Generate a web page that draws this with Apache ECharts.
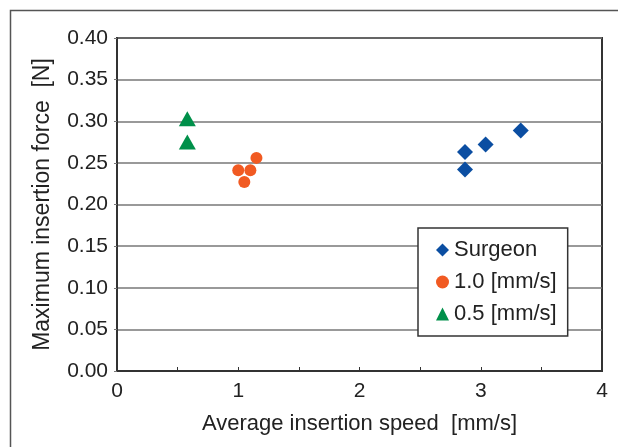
<!DOCTYPE html>
<html><head><meta charset="utf-8">
<script src="https://cdn.jsdelivr.net/npm/echarts@6/dist/echarts.min.js"></script>
<style>html,body{margin:0;padding:0;background:#fff}#c{width:618px;height:447px}</style>
</head><body><div id="c"></div>
<script>
var seriesNames = ['Surgeon', '1.0 [mm/s]', '0.5 [mm/s]'];
var surgeonX = [2.87, 2.87, 3.04, 3.33];
var surgeonY = [0.263, 0.242, 0.272, 0.289];
var speed10X = [1.00, 1.10, 1.15, 1.05];
var speed10Y = [0.241, 0.241, 0.256, 0.227];
var speed05X = [0.58, 0.58];
var speed05Y = [0.303, 0.275];
var xTicks = [0, 1, 2, 3, 4];
var yTicks = [0.00, 0.05, 0.10, 0.15, 0.20, 0.25, 0.30, 0.35, 0.40];

function pairs(xs, ys) { return xs.map(function (x, i) { return [x, ys[i]]; }); }
var FONT = '"Liberation Sans", Arial, sans-serif';
var chart = echarts.init(document.getElementById('c'), null, {renderer: 'canvas'});
chart.setOption({
  animation: false,
  backgroundColor: '#fff',
  textStyle: {fontFamily: FONT},
  graphic: [{
    type: 'rect', shape: {x: 10.5, y: 10.5, width: 640, height: 460},
    style: {fill: 'none', stroke: '#555', lineWidth: 1.5}, silent: true, z: 0
  }],
  grid: {left: 117, right: 16, top: 38, bottom: 76, show: true,
    borderColor: '#333', borderWidth: 2, backgroundColor: 'transparent'},
  xAxis: {
    type: 'value', min: xTicks[0], max: xTicks[xTicks.length - 1], interval: 1,
    name: 'Average insertion speed  [mm/s]', nameLocation: 'middle', nameGap: 42,
    nameTextStyle: {fontSize: 22, color: '#222', fontFamily: FONT},
    axisLine: {lineStyle: {color: '#333', width: 2}},
    axisTick: {show: true, inside: true, length: 4, lineStyle: {color: '#333'}},
    minorTick: {show: true, splitNumber: 2, length: 4, lineStyle: {color: '#333'}},
    splitLine: {show: false},
    axisLabel: {fontSize: 21, color: '#222', margin: 10, fontFamily: FONT}
  },
  yAxis: {
    type: 'value', min: yTicks[0], max: yTicks[yTicks.length - 1], interval: 0.05,
    name: 'Maximum insertion force  [N]', nameLocation: 'middle', nameGap: 63,
    nameTextStyle: {fontSize: 23, color: '#222', fontFamily: FONT},
    axisLine: {lineStyle: {color: '#333', width: 2}},
    axisTick: {show: true, length: 3, lineStyle: {color: '#777'}},
    splitLine: {show: true, lineStyle: {color: '#777', width: 1.5}},
    axisLabel: {fontSize: 21, color: '#222', margin: 9, fontFamily: FONT,
      formatter: function (v) { return v.toFixed(2); }}
  },
  legend: {
    orient: 'vertical', left: 418, top: 228,
    padding: [11, 11, 11, 18], itemGap: 10, itemWidth: 13, itemHeight: 13,
    backgroundColor: '#fff', borderColor: '#333', borderWidth: 1.5,
    textStyle: {fontSize: 22, color: '#222', fontFamily: FONT},
    data: [
      {name: seriesNames[0], icon: 'diamond'},
      {name: seriesNames[1], icon: 'circle'},
      {name: seriesNames[2], icon: 'triangle'}
    ]
  },
  series: [
    {name: seriesNames[0], type: 'scatter', symbol: 'diamond', symbolSize: [16, 16],
      itemStyle: {color: '#0b4ea2', opacity: 1}, data: pairs(surgeonX, surgeonY)},
    {name: seriesNames[1], type: 'scatter', symbol: 'circle', symbolSize: 12,
      itemStyle: {color: '#f15a22', opacity: 1}, data: pairs(speed10X, speed10Y)},
    {name: seriesNames[2], type: 'scatter', symbol: 'triangle', symbolSize: [17, 15],
      itemStyle: {color: '#00904a', opacity: 1}, data: pairs(speed05X, speed05Y)}
  ]
});
</script></body></html>
